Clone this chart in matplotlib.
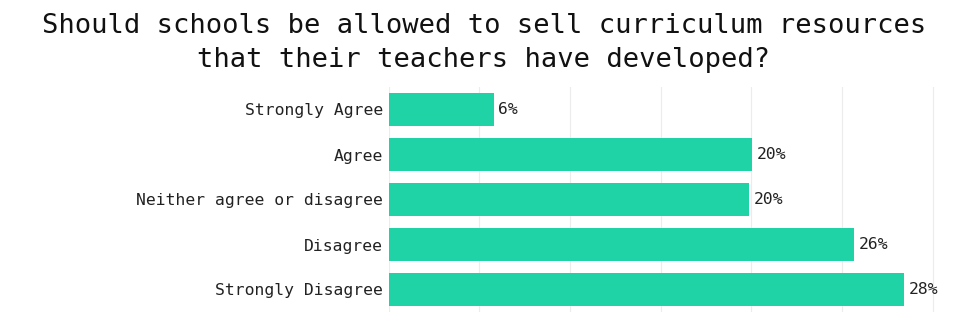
import matplotlib
matplotlib.use("Agg")
import matplotlib.pyplot as plt

# === Data ===
categories = ["Strongly Agree", "Agree", "Neither agree or disagree",
              "Disagree", "Strongly Disagree"]
values = [5.82, 20.04, 19.88, 25.66, 28.42]
labels = ["6%", "20%", "20%", "26%", "28%"]

title = "Should schools be allowed to sell curriculum resources\nthat their teachers have developed?"

plt.rcParams['font.family'] = ['DejaVu Sans Mono']

# === Plot ===
fig = plt.figure(figsize=(9.68, 3.12), dpi=100)
ax = fig.add_axes([388.5 / 968, 0.0, (942 - 388.5) / 968, 225 / 312])

pos = list(range(len(categories)))
ax.barh(pos, values, height=0.75, color="#20d3a7", zorder=2)
ax.set_ylim(len(categories) - 0.5, -0.5)
ax.set_xlim(0, 30.5)
ax.set_yticks(pos)
ax.set_yticklabels(categories, fontsize=11.8, color="#222222")
ax.set_xticks([0, 5, 10, 15, 20, 25, 30])
ax.tick_params(axis="x", length=0, labelbottom=False)
ax.tick_params(axis="y", length=0, pad=4)
ax.grid(axis="x", color="#ececec", linewidth=0.8, zorder=0)
for s in ax.spines.values():
    s.set_visible(False)

for y, v, lab in zip(pos, values, labels):
    ax.annotate(lab, (v, y), xytext=(3, 0), textcoords="offset points",
                va="center", ha="left", fontsize=11.8, color="#222222")

fig.text(0.5, 0.957, title, ha="center", va="top", fontsize=19.5,
         color="#111111", linespacing=1.4)

fig.savefig("out.png", dpi=100)
